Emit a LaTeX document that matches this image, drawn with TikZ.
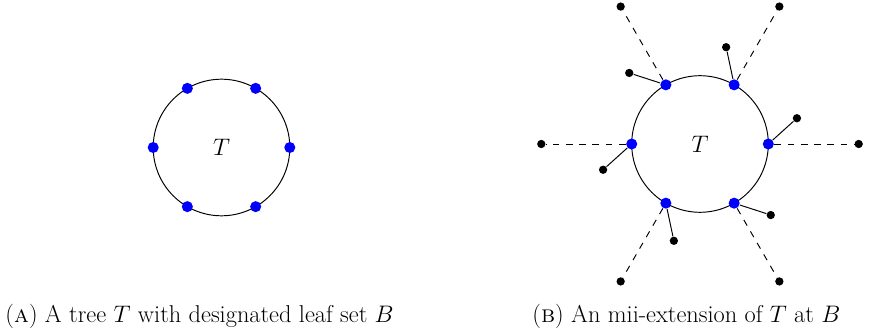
\documentclass[tikz,border=0pt]{standalone}
\usepackage{amsmath, amssymb}
\usetikzlibrary{calc}

\begin{document}
\begin{tikzpicture}[x=0.0254cm, y=0.0254cm, line width=0.7pt,
  leaf/.style={circle, fill=blue, inner sep=0pt, minimum size=8pt},
  ext/.style={circle, fill=black, inner sep=0pt, minimum size=6pt},
  link/.style={dash pattern=on 4.8pt off 4.8pt},
  lbl/.style={font=\fontsize{18.5}{22}\selectfont},
  subcap/.style={font=\fontsize{17.6}{21}\selectfont, anchor=base west, inner sep=0pt}]
  \useasboundingbox (0,0) rectangle (871,333);
  % (a) the tree with its leaves
  \coordinate (TA) at (221.5,185.5);
  \draw (TA) circle [radius=68.3];
  \node[lbl] (la) at (TA) {$T$};
  \foreach \a in {0,60,...,300}
    \node[leaf] (a\a) at ($(TA)+(\a:68.3)$) {};
  % (b) the extension at the leaves
  \coordinate (TB) at (700,189);
  \draw (TB) circle [radius=68.3];
  \node[lbl] (lb) at (TB) {$T$};
  \foreach \a in {0,60,...,300} {
    \node[leaf] (b\a) at ($(TB)+(\a:68.3)$) {};
    \node[ext] (f\a) at ($(TB)+(\a:158.7)$) {};
    \node[ext] (s\a) at ($(b\a)+({\a+42}:38.5)$) {};
    \draw[link] (b\a) -- (f\a);
    \draw (b\a) -- (s\a);
  }
  % captions
  \node[subcap] (capa) at (5,10.7) {(\textsc{a}) A tree $T$ with designated leaf set $B$};
  \node[subcap] (capb) at (532,10.7) {(\textsc{b}) An mii-extension of $T$ at $B$};
\end{tikzpicture}
\end{document}
